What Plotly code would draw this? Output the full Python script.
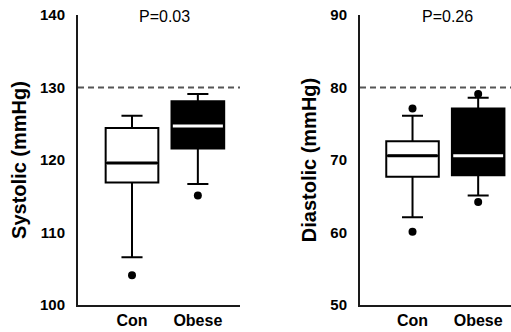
import plotly.graph_objects as go

W, H = 511, 332

groups = ["Con", "Obese"]

# Systolic box statistics (mmHg)
sys_q1 = [116.9, 121.6]
sys_median = [119.6, 124.7]
sys_q3 = [124.4, 128.1]
sys_low = [106.6, 116.7]
sys_high = [126.1, 129.1]
sys_outliers = [[104.1], [115.1]]

# Diastolic box statistics (mmHg)
dia_q1 = [67.7, 67.9]
dia_median = [70.6, 70.6]
dia_q3 = [72.6, 77.1]
dia_low = [62.1, 65.1]
dia_high = [76.1, 78.6]
dia_outliers = [[77.1, 60.1], [79.1, 64.2]]

sys_threshold = 130
dia_threshold = 80
p_values = ["P=0.03", "P=0.26"]

fills = ["white", "black"]
median_colors = ["black", "white"]
box_w = 0.8

fig = go.Figure()


def add_panel(xa, ya, q1, med, q3, lo, hi, outl):
    for i, g in enumerate(groups):
        fig.add_trace(go.Box(
            x=[i], q1=[q1[i]], median=[med[i]], q3=[q3[i]],
            lowerfence=[lo[i]], upperfence=[hi[i]],
            width=box_w, whiskerwidth=0.4,
            fillcolor=fills[i], line=dict(color="black", width=2),
            boxpoints=False, showlegend=False, hoverinfo="skip",
            xaxis=xa, yaxis=ya,
        ))
        # median bar drawn on top so it shows on the filled box too
        fig.add_trace(go.Scatter(
            x=[i - box_w / 2 + 0.02, i + box_w / 2 - 0.02], y=[med[i], med[i]],
            mode="lines", line=dict(color=median_colors[i], width=3),
            showlegend=False, hoverinfo="skip", xaxis=xa, yaxis=ya,
        ))
        fig.add_trace(go.Scatter(
            x=[i] * len(outl[i]), y=outl[i], mode="markers",
            marker=dict(color="black", size=8),
            showlegend=False, hoverinfo="skip", xaxis=xa, yaxis=ya,
        ))


add_panel("x", "y", sys_q1, sys_median, sys_q3, sys_low, sys_high, sys_outliers)
add_panel("x2", "y2", dia_q1, dia_median, dia_q3, dia_low, dia_high, dia_outliers)

FAM = "Liberation Sans, Arial"
y_dom = [1 - 305 / H, 1 - 15 / H]
ytick_font = dict(family=FAM, size=15, color="black", weight="bold")
xtick_font = dict(family=FAM, size=16, color="black", weight="bold")
title_font = dict(family=FAM, size=20, color="black", weight="bold")
p_font = dict(family=FAM, size=16, color="black")

common_x = dict(
    tickvals=[0, 1], ticktext=groups, showline=True, linecolor="#1a1a1a", linewidth=2,
    showgrid=False, zeroline=False, ticks="", tickfont=xtick_font, fixedrange=True,
)
common_y = dict(
    showline=True, linecolor="#1a1a1a", linewidth=2, showgrid=False, zeroline=False,
    ticks="", tickfont=ytick_font, ticklabelstandoff=8, automargin=False,
    domain=y_dom, dtick=10,
)

ref_line = dict(color="#555", width=2, dash="6px,4px")

fig.update_layout(
    width=W, height=H, margin=dict(l=0, r=0, t=0, b=0),
    paper_bgcolor="white", plot_bgcolor="white", boxgap=0,
    xaxis=dict(common_x, domain=[78 / W, 240 / W], range=[-0.82, 1.64], anchor="y"),
    yaxis=dict(common_y, range=[100, 140], anchor="x",
               title=dict(text="Systolic (mmHg)", font=title_font, standoff=8)),
    xaxis2=dict(common_x, domain=[360 / W, 1.0], range=[-0.80, 1.50], anchor="y2"),
    yaxis2=dict(common_y, range=[50, 90], anchor="x2",
                title=dict(text="Diastolic (mmHg)", font=title_font, standoff=8)),
    shapes=[
        dict(type="line", xref="x domain", yref="y", x0=0, x1=1,
             y0=sys_threshold, y1=sys_threshold, line=ref_line),
        dict(type="line", xref="x2 domain", yref="y2", x0=0, x1=1,
             y0=dia_threshold, y1=dia_threshold, line=ref_line),
    ],
    annotations=[
        dict(text=p_values[0], xref="paper", yref="paper", x=164 / W, y=1 - 17 / H,
             xanchor="center", yanchor="middle", showarrow=False, font=p_font),
        dict(text=p_values[1], xref="paper", yref="paper", x=447 / W, y=1 - 17 / H,
             xanchor="center", yanchor="middle", showarrow=False, font=p_font),
    ],
)

fig.write_html("out.html")
